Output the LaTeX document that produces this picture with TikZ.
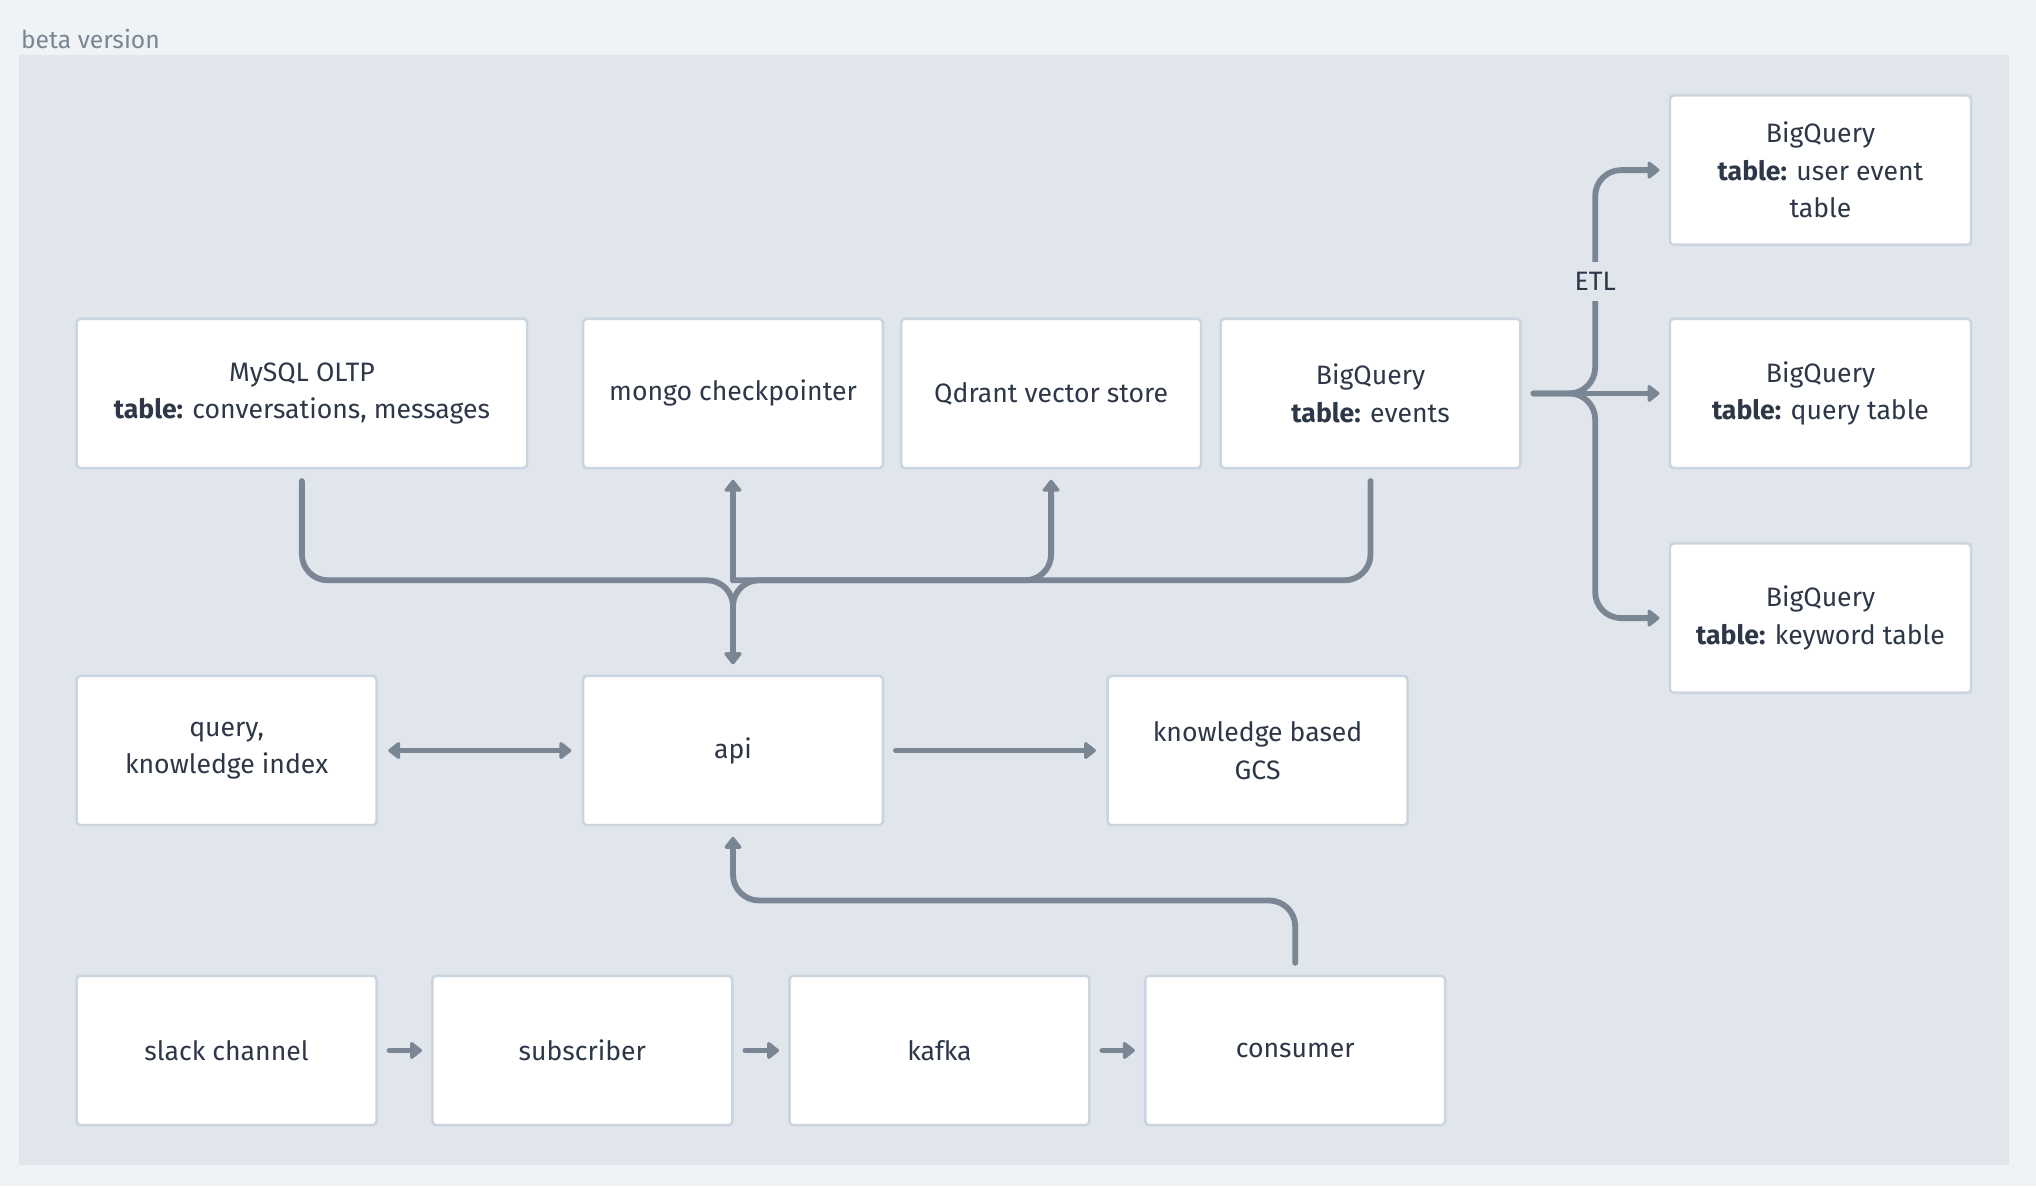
\documentclass[tikz,border=0pt]{standalone}
\usepackage{fontspec}
\setmainfont{Fira Sans}
\usetikzlibrary{arrows.meta, positioning, calc}
\definecolor{pagebg}{HTML}{EFF3F6}
\definecolor{panelbg}{HTML}{E1E6ED}
\definecolor{boxline}{HTML}{CBD5DF}
\definecolor{wire}{HTML}{7A8694}
\definecolor{ink}{HTML}{2D3748}
\tikzstyle{block} = [rectangle, draw=boxline, line width=2pt, outer sep=0pt, rounded corners=3pt, fill=white, text=ink, align=center, minimum width=231pt, minimum height=115pt, font=\fontsize{20.5}{29}\selectfont]
\tikzstyle{link} = [line width=4.5pt, wire, rounded corners=20pt, line cap=round]
\tikzstyle{flow} = [link, -{Triangle[length=10pt, width=15pt, round]}]
\tikzstyle{both} = [link, {Triangle[length=10pt, width=15pt, round]}-{Triangle[length=10pt, width=15pt, round]}]
\tikzstyle{tag} = [text=ink, fill=panelbg, inner xsep=2pt, inner ysep=8pt, font=\fontsize{20.5}{29}\selectfont]

\begin{document}
\begin{tikzpicture}[x=1pt, y=-1pt]

	% Background and panel
	\useasboundingbox[fill=pagebg] (0,0) rectangle (1568,913.4);
	\fill[panelbg] (15,42) rectangle (1547,897);
	\node (title) [anchor=west, text=wire, font=\fontsize{19}{22}\selectfont, inner sep=0pt] at (16,30) {beta version};

	% Storage row
	\node (mysql) [block, minimum width=347pt] at (232.5,303) {MySQL OLTP\\\textbf{table:} conversations, messages};
	\node (mongo) [block, right=43pt of mysql] {mongo checkpointer};
	\node (qdrant) [block, right=14pt of mongo] {Qdrant vector store};
	\node (events) [block, right=15pt of qdrant] {BigQuery\\\textbf{table:} events};

	% BigQuery tables
	\node (bqquery) [block, right=115pt of events, minimum width=232pt] {BigQuery\\\textbf{table:} query table};
	\node (bquser) [block, above=57pt of bqquery, minimum width=232pt] {BigQuery\\\textbf{table:} user event\\table};
	\node (bqkeyword) [block, below=58pt of bqquery, minimum width=232pt] {BigQuery\\\textbf{table:} keyword table};

	% Service row
	\node (api) [block, below=160pt of mongo] {api};
	\node (index) [block, left=159pt of api] {query,\\knowledge index};
	\node (gcs) [block, right=173pt of api] {knowledge based\\GCS};

	% Ingest row
	\node (slack) [block, below=116pt of index] {slack channel};
	\node (subscriber) [block, right=43pt of slack] {subscriber};
	\node (kafka) [block, right=44pt of subscriber] {kafka};
	\node (consumer) [block, right=43pt of kafka] {consumer};

	% Junctions
	\coordinate (hub) at ($(mongo.south)!0.54!(api.north)$);
	\coordinate (back) at ($(api.south)!0.5!(consumer.north)$);
	\coordinate (etl) at ($(events.east)!0.5!(bqquery.west)$);

	% Arrows - storage bus
	\draw[flow] ([yshift=-10pt]mysql.south) |- (hub) -- ([yshift=9pt]api.north);
	\draw[flow] ([yshift=-10pt]events.south) |- (hub) -- ([yshift=9pt]api.north);
	\draw[flow] (hub) -- ([yshift=-9pt]mongo.south);
	\draw[flow] (hub) -| ([yshift=-9pt]qdrant.south);

	% Arrows - api
	\draw[both] ([xshift=9pt]index.east) -- ([xshift=-9pt]api.west);
	\draw[flow] ([xshift=10pt]api.east) -- ([xshift=-9pt]gcs.west);
	\draw[flow] ([yshift=10pt]consumer.north) |- (back) -| ([yshift=-9pt]api.south);

	% Arrows - ingest
	\draw[flow] ([xshift=10pt]slack.east) -- ([xshift=-8pt]subscriber.west);
	\draw[flow] ([xshift=10pt]subscriber.east) -- ([xshift=-8pt]kafka.west);
	\draw[flow] ([xshift=10pt]kafka.east) -- ([xshift=-8pt]consumer.west);

	% ETL
	\draw[flow] ([xshift=10pt]events.east) -- (etl) |- ([xshift=-8pt]bquser.west);
	\draw[flow] ([xshift=10pt]events.east) -- ([xshift=-8pt]bqquery.west);
	\draw[flow] ([xshift=10pt]events.east) -- (etl) |- ([xshift=-8pt]bqkeyword.west);
	\node (etltext) [tag] at ($(etl)!0.5!(etl |- bquser.west)$) {ETL};

\end{tikzpicture}
\end{document}
